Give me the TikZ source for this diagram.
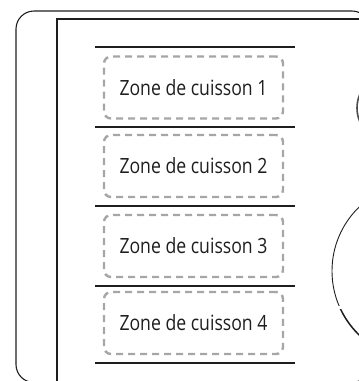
\documentclass[tikz,border=0pt]{standalone}
\usepackage{fontspec}
\setmainfont{Open Sans}[FakeStretch=0.84]
\definecolor{ink}{HTML}{1E1E1E}
\definecolor{zonegray}{HTML}{A6A6A6}
\begin{document}
\begin{tikzpicture}[x=1pt,y=-1pt,
  zone/.style={draw=zonegray, line width=2.4pt, dash pattern=on 7pt off 5pt,
    rounded corners=7pt, minimum width=179pt, minimum height=62pt,
    inner sep=0pt, font=\fontsize{21}{25}\selectfont, text=ink},
  septhick/.style={draw=ink, line width=1.8pt},
  septhin/.style={draw=ink, line width=1.1pt},
  frame/.style={draw=ink, line width=1.1pt},
  panel/.style={draw=ink, line width=1.6pt},
]
\useasboundingbox (0,0) rectangle (359,381);
\clip (0,0) rectangle (359,381);
% outer rounded frame
\draw[frame, rounded corners=18pt] (16,11) rectangle (370,382.5);
% inner panel
\draw[panel] (57,400) -- (57,19) -- (370,19);
% separators
\draw[septhick] (95,47) -- (295,47);
\draw[septhin]  (95,127) -- (295,127);
\draw[septhick] (95,206) -- (295,206);
\draw[septhin]  (95,286) -- (295,286);
\draw[septhick] (95,363) -- (295,363);
% zones
\node[zone] (z1) at (193.5,87.5) {Zone de cuisson 1};
\node[zone] (z2) at (193.5,166) {Zone de cuisson 2};
\node[zone] (z3) at (193.5,246) {Zone de cuisson 3};
\node[zone] (z4) at (193.5,323) {Zone de cuisson 4};
% knobs at right
\draw[ink!80, line width=1.6pt] (391,108) circle[radius=34pt];
\begin{scope}
  \clip (300,150) rectangle (359,305);
  \draw[ink, line width=0.9pt] (421,271) circle[radius=89pt];
\end{scope}
\begin{scope}
  \clip (300,309) rectangle (359,381);
  \draw[ink, line width=1.5pt] (421,271) circle[radius=89pt];
\end{scope}
\end{tikzpicture}
\end{document}
